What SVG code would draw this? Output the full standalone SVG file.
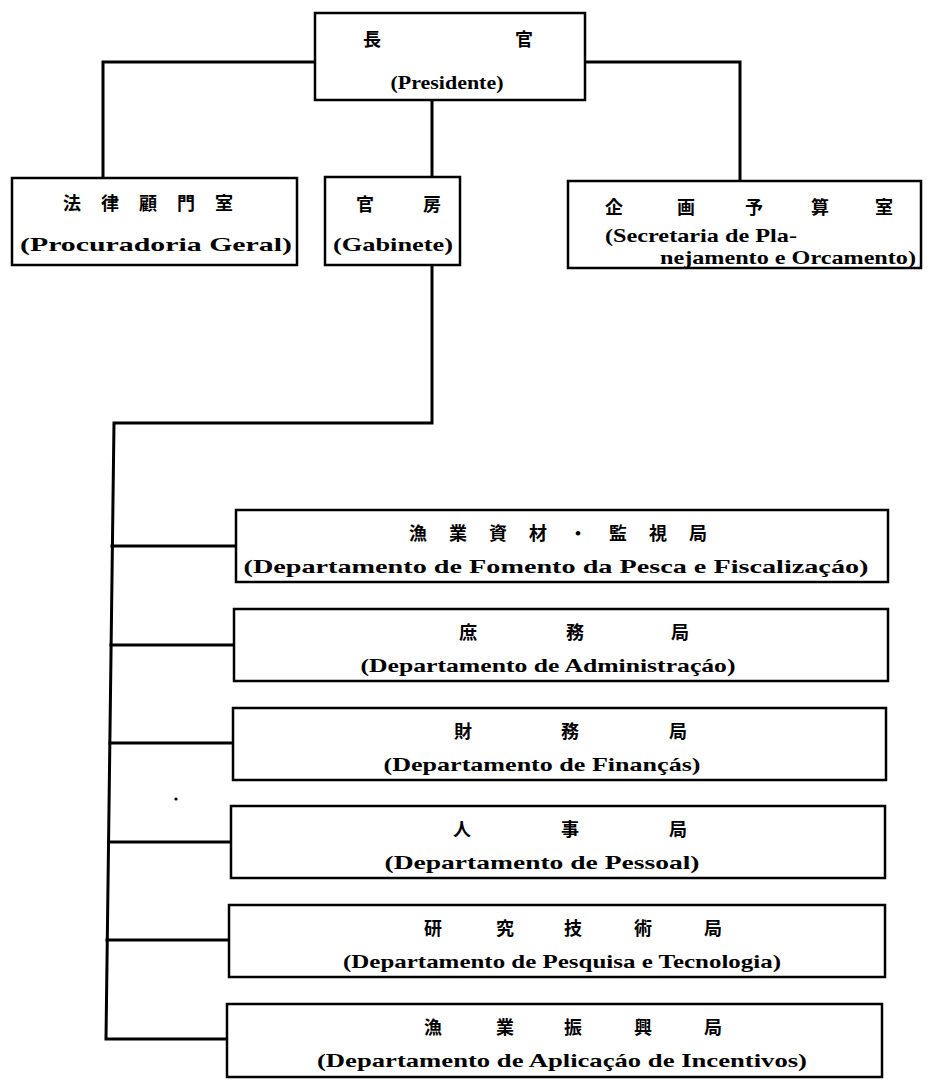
<svg xmlns="http://www.w3.org/2000/svg" width="934" height="1091" viewBox="0 0 934 1091">
  <style>
    .box { fill: #fff; stroke: #000; stroke-width: 2.5; }
    .wire { fill: none; stroke: #000; stroke-width: 3; stroke-linejoin: miter; stroke-linecap: square; }
    .cjk { font-family: "Noto Sans CJK JP", "Noto Sans CJK SC", sans-serif; font-weight: 700; font-size: 18px; fill: #000; text-anchor: middle; }
    .pt { font-family: "Liberation Serif", serif; font-weight: 700; font-size: 19px; fill: #000; }
    .c { text-anchor: middle; }
  </style>

  <rect width="934" height="1091" fill="#fff"/>

  <!-- connectors -->
  <g id="connectors" class="wire">
    <polyline points="315,62 103,62 103,178"/>
    <polyline points="585,62 740,62 740,181"/>
    <line x1="432" y1="100" x2="432" y2="177"/>
    <polyline points="432,265 432,423 114,423 106,1039 227,1039"/>
    <line x1="112" y1="546" x2="236" y2="546"/>
    <line x1="111" y1="645" x2="234" y2="645"/>
    <line x1="110" y1="743" x2="233" y2="743"/>
    <line x1="109" y1="842" x2="231" y2="842"/>
    <line x1="107" y1="940" x2="229" y2="940"/>
  </g>

  <!-- president -->
  <g id="presidente">
    <rect class="box" x="315" y="13" width="270" height="87"/>
    <text class="cjk" x="372 524" y="46">長官</text>
    <text class="pt c" x="447" y="89" textLength="113" lengthAdjust="spacingAndGlyphs">(Presidente)</text>
  </g>

  <!-- legal office -->
  <g id="procuradoria">
    <rect class="box" x="12" y="178" width="285" height="87"/>
    <text class="cjk" x="72 110 148 186 224" y="210">法律顧門室</text>
    <text class="pt c" x="156" y="251" textLength="272" lengthAdjust="spacingAndGlyphs">(Procuradoria Geral)</text>
  </g>

  <!-- cabinet -->
  <g id="gabinete">
    <rect class="box" x="325" y="177" width="135" height="88"/>
    <text class="cjk" x="365 432" y="211">官房</text>
    <text class="pt c" x="393" y="251" textLength="120" lengthAdjust="spacingAndGlyphs">(Gabinete)</text>
  </g>

  <!-- planning and budget -->
  <g id="secretaria">
    <rect class="box" x="568" y="181" width="353" height="87"/>
    <text class="cjk" x="614 686 754 820 884" y="214">企画予算室</text>
    <text class="pt" x="605" y="242" textLength="192" lengthAdjust="spacingAndGlyphs">(Secretaria de Pla-</text>
    <text class="pt" x="660" y="264" textLength="256" lengthAdjust="spacingAndGlyphs">nejamento e Orcamento)</text>
  </g>

  <!-- departments -->
  <g id="fomento">
    <rect class="box" x="236" y="510" width="652" height="72"/>
    <text class="cjk" x="418 458 498 538 578 618 658 698" y="540">漁業資材・監視局</text>
    <text class="pt c" x="556" y="573" textLength="625" lengthAdjust="spacingAndGlyphs">(Departamento de Fomento da Pesca e Fiscalizaçáo)</text>
  </g>

  <g id="administracao">
    <rect class="box" x="234" y="609" width="654" height="72"/>
    <text class="cjk" x="468 575 680" y="639">庶務局</text>
    <text class="pt c" x="548" y="672" textLength="375" lengthAdjust="spacingAndGlyphs">(Departamento de Administraçáo)</text>
  </g>

  <g id="financas">
    <rect class="box" x="233" y="708" width="653" height="72"/>
    <text class="cjk" x="463 570 678" y="738">財務局</text>
    <text class="pt c" x="542" y="771" textLength="317" lengthAdjust="spacingAndGlyphs">(Departamento de Finançás)</text>
  </g>

  <g id="pessoal">
    <rect class="box" x="231" y="806" width="654" height="72"/>
    <text class="cjk" x="462 570 678" y="836">人事局</text>
    <text class="pt c" x="542" y="869" textLength="315" lengthAdjust="spacingAndGlyphs">(Departamento de Pessoal)</text>
  </g>

  <g id="pesquisa">
    <rect class="box" x="229" y="905" width="656" height="72"/>
    <text class="cjk" x="433 505 573 643 713" y="935">研究技術局</text>
    <text class="pt c" x="562" y="968" textLength="438" lengthAdjust="spacingAndGlyphs">(Departamento de Pesquisa e Tecnologia)</text>
  </g>

  <g id="incentivos">
    <rect class="box" x="227" y="1004" width="655" height="73"/>
    <text class="cjk" x="433 505 573 643 713" y="1034">漁業振興局</text>
    <text class="pt c" x="562" y="1067" textLength="490" lengthAdjust="spacingAndGlyphs">(Departamento de Aplicaçáo de Incentivos)</text>
  </g>

  <!-- small ink dot beside the personnel branch -->
  <circle cx="176" cy="799" r="1.6" fill="#000"/>
</svg>
